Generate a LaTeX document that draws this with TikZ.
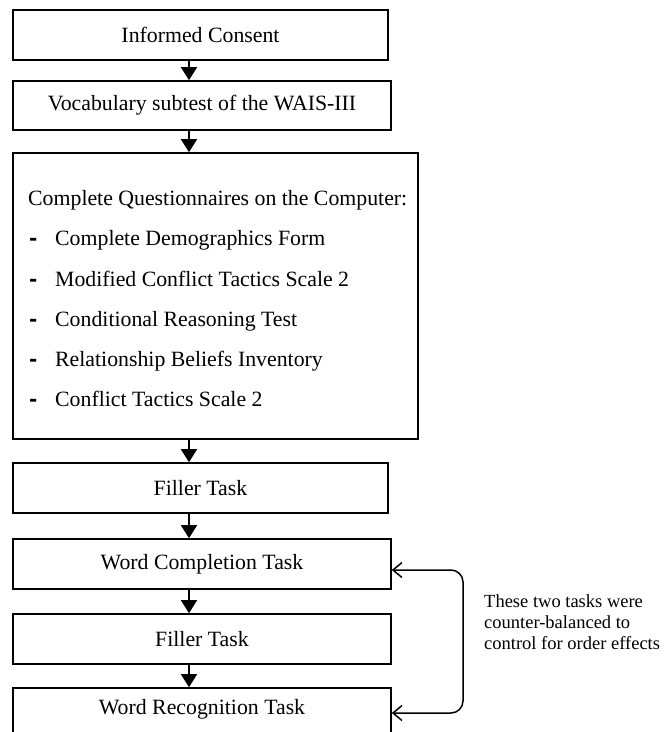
\documentclass[tikz,border=0pt]{standalone}
\usepackage{fontspec}
\setmainfont{Liberation Serif}
\newfontfamily\dashfont{DejaVu Sans}
\usetikzlibrary{arrows.meta,calc}
\begin{document}
\begin{tikzpicture}[x=1pt,y=1pt,
  box/.style={draw=black,line width=1.6pt,rectangle,inner sep=0pt,font=\fontsize{21.8}{25}\selectfont},
  txt/.style={inner sep=0pt,anchor=base west,font=\fontsize{21.8}{25}\selectfont},
  dsh/.style={inner sep=0pt,anchor=base west,font=\dashfont\bfseries\fontsize{20}{24}\selectfont},
  flow/.style={line width=1.5pt,-{Triangle[length=13pt,width=16pt]}},
  cb/.style={line width=1.5pt,rounded corners=12pt,{Straight Barb[length=9pt,width=15pt,line width=1.5pt]}-{Straight Barb[length=9pt,width=15pt,line width=1.5pt]}},
  note/.style={inner sep=0pt,anchor=west,align=left,font=\fontsize{18.5}{20.8}\selectfont}]
\useasboundingbox (0,0) rectangle (666,-732);
\clip (0,0) rectangle (666,-732);
\fill[white] (0,0) rectangle (666,-732);
\coordinate (ax) at (189,0);
\coordinate (cx) at (463,0);
\node[box,minimum width=375pt,minimum height=50pt] (b1) at (200.5,-35) {Informed Consent};
\node[box,minimum width=378pt,minimum height=49pt] (b2) at (202,-105.5) {Vocabulary subtest of the WAIS-III};
\node[box,minimum width=405pt,minimum height=286pt] (b3) at (215.5,-296) {};
\node[txt] (q0) at (28,-205) {Complete Questionnaires on the Computer:};
\node[dsh] (d1) at (29,-245) {-};
\node[txt] (q1) at (55,-245) {Complete Demographics Form};
\node[dsh] (d2) at (29,-286) {-};
\node[txt] (q2) at (55,-286) {Modified Conflict Tactics Scale 2};
\node[dsh] (d3) at (29,-326) {-};
\node[txt] (q3) at (55,-326) {Conditional Reasoning Test};
\node[dsh] (d4) at (29,-366) {-};
\node[txt] (q4) at (55,-366) {Relationship Beliefs Inventory};
\node[dsh] (d5) at (29,-406) {-};
\node[txt] (q5) at (55,-406) {Conflict Tactics Scale 2};
\node[box,minimum width=375pt,minimum height=50pt] (b4) at (200.5,-488) {Filler Task};
\node[box,minimum width=378pt,minimum height=50pt] (b5) at (202,-564) {Word Completion Task};
\node[box,minimum width=378pt,minimum height=50pt] (b6) at (202,-639) {Filler Task};
\node[box,minimum width=378pt,minimum height=50pt] (b7) at (202,-713) {};
\node[box,draw=none] (t7) at (202,-709) {Word Recognition Task};
\draw[flow] (b1.south -| ax) -- (b2.north -| ax);
\draw[flow] (b2.south -| ax) -- (b3.north -| ax);
\draw[flow] (b3.south -| ax) -- (b4.north -| ax);
\draw[flow] (b4.south -| ax) -- (b5.north -| ax);
\draw[flow] (b5.south -| ax) -- (b6.north -| ax);
\draw[flow] (b6.south -| ax) -- (b7.north -| ax);
\coordinate (p1) at ($(b5.east)+(0,-6)$);
\draw[cb] (p1) -| (cx |- b7.east) -- (b7.east);
\node[note] (n) at (484,-622) {These two tasks were\\counter-balanced to\\control for order effects};
\end{tikzpicture}
\end{document}
